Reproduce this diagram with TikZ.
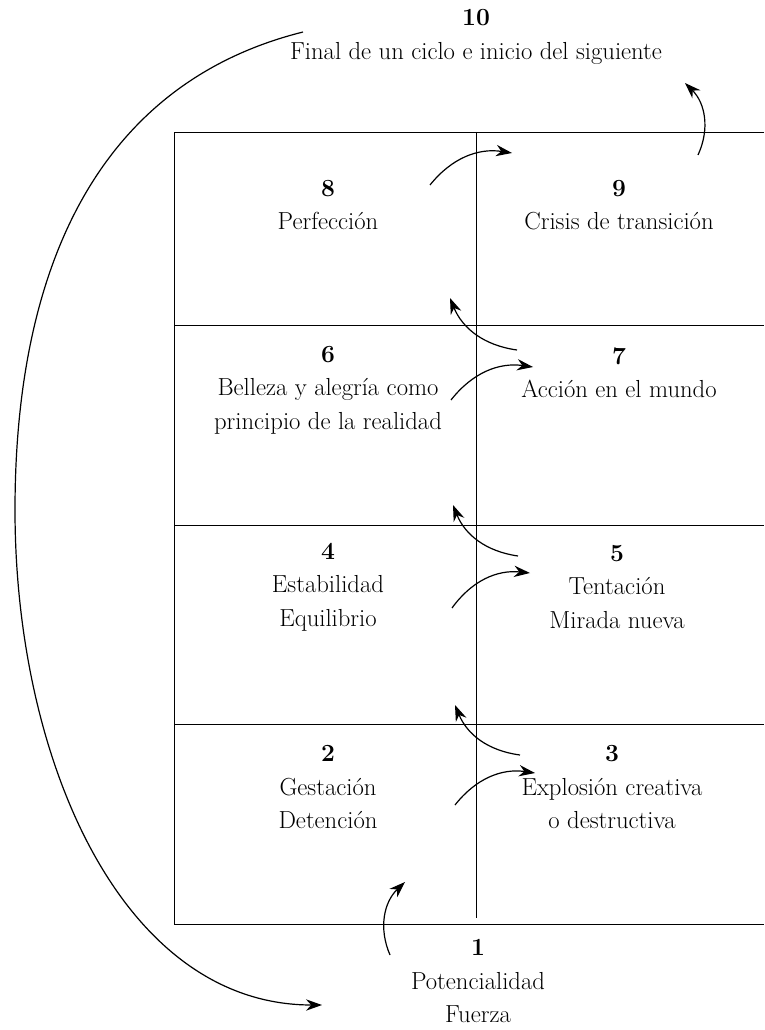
\documentclass[tikz,border=0pt]{standalone}
\usepackage{fontspec}
\usetikzlibrary{arrows.meta}
\tikzset{
  stage/.style={align=center, inner sep=0pt, font=\fontsize{18.5}{25}\selectfont},
  turn/.style={line width=0.9pt, -{Stealth[length=12pt,width=8.5pt]}},
  gridline/.style={line width=0.7pt}
}
\begin{document}
\begin{tikzpicture}[x=0.75pt,y=-0.75pt]
\useasboundingbox (0,0) rectangle (764,1030);

% cuadro
\draw[gridline] (764,132) -- (174,132) -- (174,924) -- (764,924);
\draw[gridline] (174,325) -- (764,325);
\draw[gridline] (174,525) -- (764,525);
\draw[gridline] (174,724) -- (764,724);
\draw[gridline] (476,132) -- (476,918);

% etapas
\node[stage] (s10) at (476,37) {\textbf{10}\\Final de un ciclo e inicio del siguiente};
\node[stage] (s8) at (328,205) {\textbf{8}\\Perfección};
\node[stage] (s9) at (619,205) {\textbf{9}\\Crisis de transición};
\node[stage] (s6) at (328,390) {\textbf{6}\\Belleza y alegría como\\principio de la realidad};
\node[stage] (s7) at (619,373) {\textbf{7}\\Acción en el mundo};
\node[stage] (s4) at (328,587) {\textbf{4}\\Estabilidad\\Equilibrio};
\node[stage] (s5) at (617,587) {\textbf{5}\\Tentación\\Mirada nueva};
\node[stage] (s2) at (328,787) {\textbf{2}\\Gestación\\Detención};
\node[stage] (s3) at (612,787) {\textbf{3}\\Explosión creativa\\o destructiva};
\node[stage] (s1) at (478,981) {\textbf{1}\\Potencialidad\\Fuerza};

% flechas
\coordinate (a1) at (390,955); \coordinate (b1) at (405,882);
\coordinate (a2) at (455,805); \coordinate (b2) at (535,773);
\coordinate (a3) at (520,755); \coordinate (b3) at (455,705);
\coordinate (a4) at (452,608); \coordinate (b4) at (530,573);
\coordinate (a5) at (518,556); \coordinate (b5) at (453,505);
\coordinate (a6) at (451,400); \coordinate (b6) at (533,367);
\coordinate (a7) at (517,350); \coordinate (b7) at (450,298);
\coordinate (a8) at (430,185); \coordinate (b8) at (512,153);
\coordinate (a9) at (698,155); \coordinate (b9) at (685,83);
\coordinate (a10) at (303,32); \coordinate (m10) at (15,510); \coordinate (b10) at (322,1005);

\draw[turn] (a1) to[bend left=35] (b1);
\draw[turn] (a2) to[bend left=30] (b2);
\draw[turn] (a3) to[bend left=30] (b3);
\draw[turn] (a4) to[bend left=30] (b4);
\draw[turn] (a5) to[bend left=30] (b5);
\draw[turn] (a6) to[bend left=30] (b6);
\draw[turn] (a7) to[bend left=30] (b7);
\draw[turn] (a8) to[bend left=30] (b8);
\draw[turn] (a9) to[bend right=35] (b9);
\draw[turn] (a10) .. controls (103,82) and (15,260) .. (m10)
                  .. controls (15,760) and (122,1005) .. (b10);

\end{tikzpicture}
\end{document}
